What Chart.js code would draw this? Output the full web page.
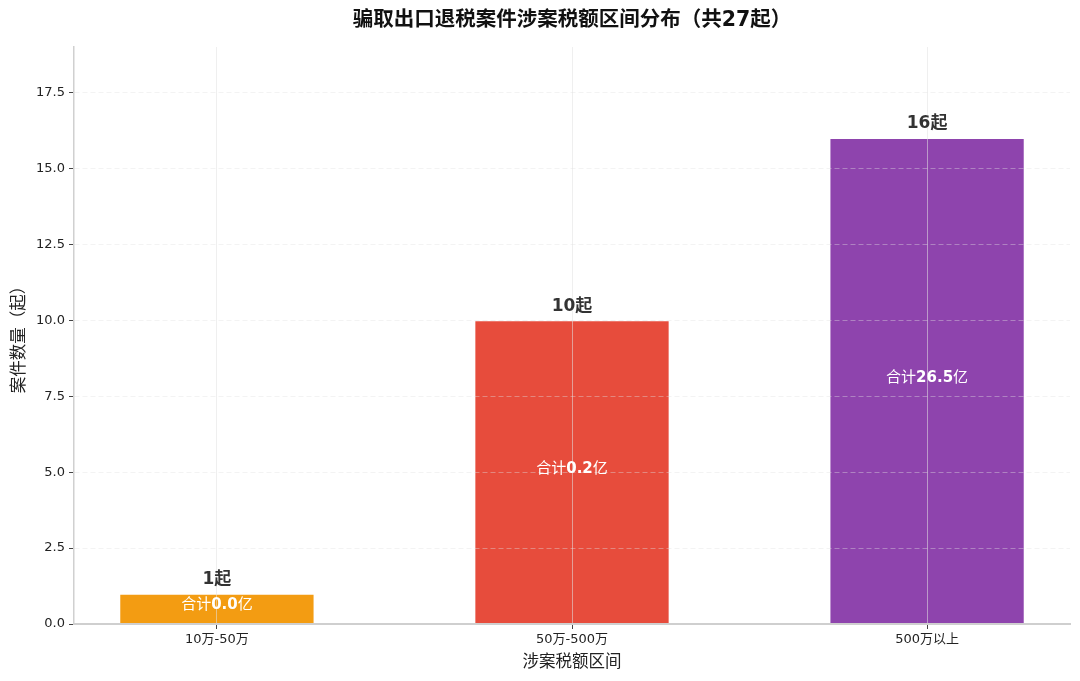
<!DOCTYPE html>
<html>
<head>
<meta charset="utf-8">
<script src="https://cdn.jsdelivr.net/npm/chart.js@4.4.1/dist/chart.umd.min.js"></script>
<style>
  html, body { margin: 0; padding: 0; background: #fff; }
  #wrap { width: 1080px; height: 681px; }
</style>
</head>
<body>
<div id="wrap"><canvas id="bar-chart" width="1080" height="681"></canvas></div>
<script>
var categories = ["10万-50万", "50万-500万", "500万以上"];
var case_counts = [1, 10, 16];
var total_amounts = ["0.0", "0.2", "26.5"];
var bar_colors = ["#f39c12", "#e74c3c", "#8e44ad"];
var y_ticks = [0, 2.5, 5, 7.5, 10, 12.5, 15, 17.5];

var LATIN = "'DejaVu Sans'";
var CJK = "'Noto Sans CJK SC'";

// draw a string centred at (cx, cy), CJK runs and latin runs in their own weight
function draw_mixed(ctx, text, cx, cy, size, color, cjk_weight, latin_weight) {
	var runs = text.match(/[\u3000-\u9fff\uff00-\uffef]+|[^\u3000-\u9fff\uff00-\uffef]+/g);
	var parts = [];
	var total = 0;
	for (let r of runs) {
		var is_cjk = /[\u3000-\u9fff\uff00-\uffef]/.test(r);
		var font = (is_cjk ? cjk_weight : latin_weight) + " " + size + "px " + (is_cjk ? CJK : LATIN);
		ctx.font = font;
		var w = ctx.measureText(r).width;
		parts.push({ t: r, f: font, w: w });
		total += w;
	}
	var x = cx - total / 2;
	ctx.fillStyle = color;
	ctx.textAlign = "left";
	ctx.textBaseline = "alphabetic";
	for (let p of parts) {
		ctx.font = p.f;
		ctx.fillText(p.t, x, cy + size * 0.37);
		x += p.w;
	}
}

var label_plugin = {
	id: "labels",
	afterDraw: function(chart) {
		var ctx = chart.ctx;
		var area = chart.chartArea;
		var xs = chart.scales.x;
		var ys = chart.scales.y;
		ctx.save();

		draw_mixed(ctx, "骗取出口退税案件涉案税额区间分布（共27起）", (area.left + area.right) / 2, 18, 20.5, "#111", "bold", "bold");

		for (let i in case_counts) {
			var cx = xs.getPixelForValue(Number(i));
			draw_mixed(ctx, case_counts[i] + "起", cx, ys.getPixelForValue(case_counts[i]) - 16, 17, "#333", "bold", "bold");
			draw_mixed(ctx, "合计" + total_amounts[i] + "亿", cx, ys.getPixelForValue(case_counts[i] / 2) - 5, 15, "#fff", "normal", "bold");
		}
		ctx.restore();
	}
};

new Chart(document.getElementById("bar-chart"), {
	type: "bar",
	data: {
		datasets: [
			{
				data: case_counts.map(function(v, i) { return { x: i, y: v }; }),
				backgroundColor: bar_colors,
				borderColor: "rgba(255,255,255,0.6)",
				borderWidth: 1,
				barPercentage: 0.55,
				categoryPercentage: 1.0
			}
		]
	},
	plugins: [label_plugin],
	options: {
		responsive: false,
		animation: false,
		devicePixelRatio: 1,
		layout: { padding: { left: 0, top: 47, right: 10, bottom: 0 } },
		plugins: {
			legend: { display: false },
			title: { display: false },
			tooltip: { enabled: false }
		},
		scales: {
			x: {
				type: "linear",
				min: -0.4025,
				max: 2.4025,
				offset: false,
				afterBuildTicks: function(scale) {
					scale.ticks = categories.map(function(c, i) { return { value: i }; });
				},
				afterFit: function(scale) { scale.height = 57; },
				ticks: {
					autoSkip: false,
					maxRotation: 0,
					padding: 3,
					color: "#222",
					font: { family: LATIN + ", " + CJK, size: 13 },
					callback: function(value) { return categories[value]; }
				},
				grid: {
					offset: false,
					z: 1,
					color: "rgba(225,225,225,0.55)",
					lineWidth: 1,
					tickColor: "#444",
					tickLength: 5
				},
				border: { color: "#cfcfcf", width: 2, z: 2 },
				title: {
					display: true,
					text: "涉案税额区间",
					color: "#222",
					font: { family: CJK, size: 16.5 },
					padding: { top: 0, bottom: 10 }
				}
			},
			y: {
				min: 0,
				max: 19,
				afterBuildTicks: function(scale) {
					scale.ticks = y_ticks.map(function(v) { return { value: v }; });
				},
				afterFit: function(scale) { scale.width = 74; },
				ticks: {
					padding: 4,
					color: "#222",
					font: { family: LATIN, size: 13 },
					callback: function(value) { return Number(value).toFixed(1); }
				},
				grid: {
					z: 1,
					color: "rgba(225,225,225,0.4)",
					lineWidth: 1,
					tickColor: "#444",
					tickLength: 5,
					tickBorderDash: []
				},
				border: { color: "#d0d0d0", width: 1.5, dash: [5, 3], z: 2 },
				title: {
					display: true,
					text: "案件数量（起）",
					color: "#222",
					font: { family: CJK, size: 16.5 },
					padding: { top: 8, bottom: 0 }
				}
			}
		}
	}
});
</script>
</body>
</html>
